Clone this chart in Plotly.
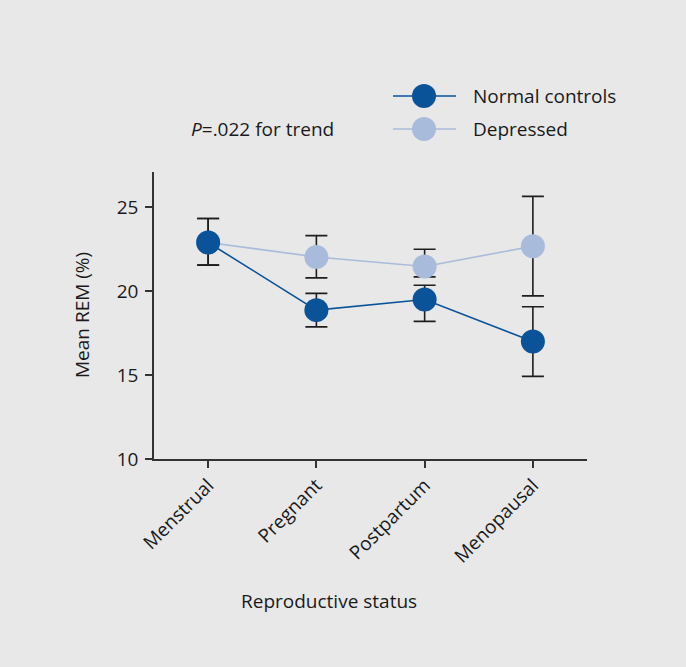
import plotly.graph_objects as go

categories = ["Menstrual", "Pregnant", "Postpartum", "Menopausal"]
normal_mean = [22.9, 18.87, 19.5, 17.0]
normal_err_plus = [1.43, 1.0, 0.85, 2.07]
normal_err_minus = [1.35, 1.0, 1.3, 2.08]
depressed_mean = [22.9, 22.04, 21.47, 22.68]
depressed_err_plus = [1.43, 1.27, 1.03, 2.97]
depressed_err_minus = [1.35, 1.25, 0.62, 2.96]
y_ticks = [10, 15, 20, 25]

DARK = "#0b5399"
LIGHT = "#a9bbdb"
BG = "#e8e8e8"
FONT = "Open Sans"
FS = 19
W, H = 686, 667
L, R, T, B = 154, 99, 172, 208
PW, PH = W - L - R, H - T - B

def px(x):
    return (x - L) / PW

def py(y):
    return (H - B - y) / PH

fig = go.Figure()
fig.add_trace(go.Scatter(
    x=categories, y=depressed_mean, mode="lines+markers", name="Depressed",
    line=dict(color=LIGHT, width=1.6),
    marker=dict(color=LIGHT, size=24),
    error_y=dict(type="data", symmetric=False, array=depressed_err_plus,
                 arrayminus=depressed_err_minus, color="#1e1e1e", thickness=1.6, width=11),
    showlegend=False))
fig.add_trace(go.Scatter(
    x=categories, y=normal_mean, mode="lines+markers", name="Normal controls",
    line=dict(color=DARK, width=1.6),
    marker=dict(color=DARK, size=24),
    error_y=dict(type="data", symmetric=False, array=normal_err_plus,
                 arrayminus=normal_err_minus, color="#1e1e1e", thickness=1.6, width=11),
    showlegend=False))

shapes = []
annotations = []
legend_items = [("Normal controls", DARK, 96), ("Depressed", LIGHT, 129)]
for name, col, yy in legend_items:
    shapes.append(dict(type="line", xref="paper", yref="paper",
                       x0=px(393), x1=px(456), y0=py(yy), y1=py(yy),
                       line=dict(color=col, width=1.6)))
    shapes.append(dict(type="circle", xref="paper", yref="paper",
                       xsizemode="pixel", ysizemode="pixel",
                       xanchor=px(424), yanchor=py(yy),
                       x0=-12, x1=12, y0=-12, y1=12,
                       fillcolor=col, line=dict(color=col, width=0)))
    annotations.append(dict(text=name, xref="paper", yref="paper",
                            x=px(471), y=py(yy), xanchor="left", yanchor="middle",
                            showarrow=False, font=dict(size=FS, color="#1a1a1a", family=FONT)))

annotations.append(dict(text="<i>P</i>=.022 for trend", xref="paper", yref="paper",
                        x=px(189), y=py(129), xanchor="left", yanchor="middle",
                        showarrow=False, font=dict(size=FS, color="#1a1a1a", family=FONT)))
annotations.append(dict(text="Reproductive status", xref="paper", yref="paper",
                        x=px(329), y=py(601), xanchor="center", yanchor="middle",
                        showarrow=False, font=dict(size=FS, color="#1a1a1a", family=FONT)))
annotations.append(dict(text="Mean REM (%)", xref="paper", yref="paper",
                        x=px(82), y=py(315), xanchor="center", yanchor="middle",
                        textangle=-90,
                        showarrow=False, font=dict(size=FS, color="#1a1a1a", family=FONT)))

fig.update_layout(
    width=W, height=H,
    margin=dict(l=L, r=R, t=T, b=B, autoexpand=False),
    paper_bgcolor=BG, plot_bgcolor=BG,
    font=dict(family=FONT, size=FS, color="#1a1a1a"),
    shapes=shapes, annotations=annotations,
    xaxis=dict(range=[-0.5, 3.5], showgrid=False, zeroline=False,
               showline=True, linecolor="#333333", linewidth=1.6,
               ticks="outside", ticklen=7, tickwidth=1.6, tickcolor="#333333",
               tickangle=-45, tickfont=dict(size=FS), ticklabelstandoff=-1),
    yaxis=dict(range=[10, 27.1], showgrid=False, zeroline=False,
               showline=True, linecolor="#333333", linewidth=1.6,
               ticks="outside", ticklen=7, tickwidth=1.6, tickcolor="#333333",
               tickvals=y_ticks, tickfont=dict(size=FS), ticklabelstandoff=3),
)

fig.write_html(
    "out.html",
    config={"displayModeBar": False},
    post_script="document.body.style.margin='0';document.body.style.background='%s';" % BG,
)
